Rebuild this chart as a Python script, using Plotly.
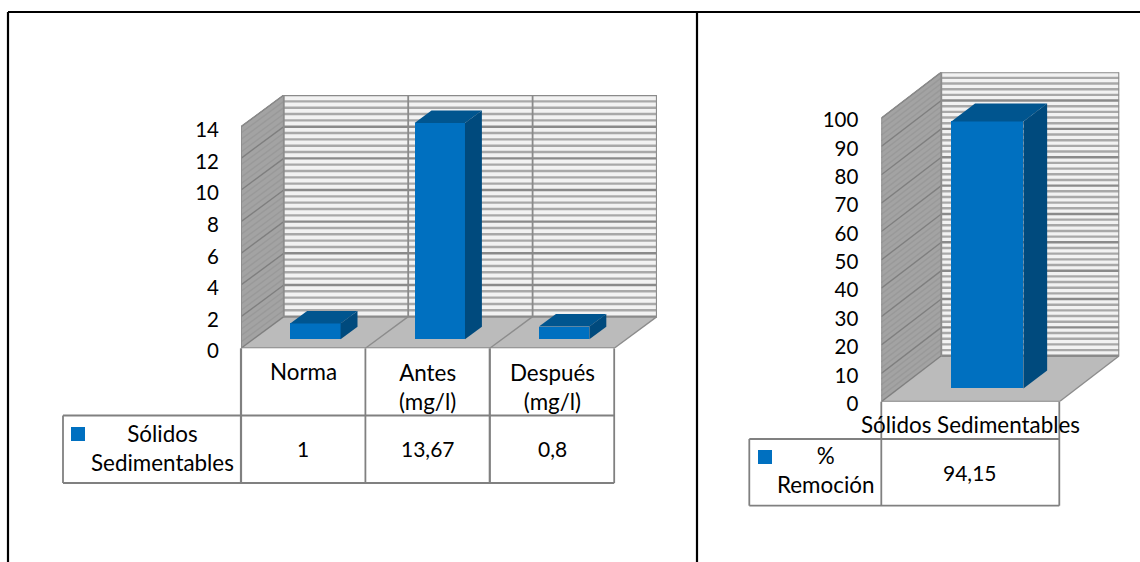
import plotly.graph_objects as go

W, H = 1140, 562

# ---- data
left_categories = ["Norma", "Antes<br>(mg/l)", "Después<br>(mg/l)"]
left_values = [1, 13.67, 0.8]
left_value_labels = ["1", "13,67", "0,8"]
left_series = "Sólidos<br>Sedimentables"
left_ticks = [0, 2, 4, 6, 8, 10, 12, 14]

right_categories = ["Sólidos Sedimentables"]
right_values = [94.15]
right_value_labels = ["94,15"]
right_series = "%<br>Remoción"
right_ticks = [0, 10, 20, 30, 40, 50, 60, 70, 80, 90, 100]

# ---- style
FONT = "Lato"
FS = 22.4
FS_VAL = 21
FS_TICK = 20.5
BLUE, BLUE_TOP, BLUE_SIDE = "#0070c0", "#00558f", "#004a7d"
WALL_BACK, WALL_SIDE, FLOOR = "#f2f2f2", "#a3a3a3", "#bbbbbb"
GRID_BACK, GRID_MAJOR, GRID_SIDE, GRID_SIDE_MAJOR = "#a8a8a8", "#8a8a8a", "#999999", "#7f7f7f"
EDGE = "#8c8c8c"
TABLE = "#808080"
BAR_D0, BAR_D1, BAR_W = 0.285, 0.68, 0.405


def px(x):
    return x / W


def py(y):
    return 1 - y / H


shapes, annotations = [], []


def paper_line(x0, y0, x1, y1, color=TABLE, width=1.8):
    shapes.append(dict(type="line", xref="paper", yref="paper", x0=px(x0), y0=py(y0),
                       x1=px(x1), y1=py(y1), line=dict(color=color, width=width)))


def paper_text(x, y, text, size=FS):
    annotations.append(dict(xref="paper", yref="paper", x=px(x), y=py(y), text=text, showarrow=False,
                            xanchor="center", yanchor="middle", align="center",
                            font=dict(family=FONT, size=size, color="black")))


def build_chart(fig, sub, ncat, values, ymax_tick, dx, dy, minor, major):
    xr, yr = "x" + sub, "y" + sub

    def poly(points, fill, line=None, lw=0):
        path = "M" + " L".join(f"{a},{b}" for a, b in points) + " Z"
        shapes.append(dict(type="path", xref=xr, yref=yr, path=path, fillcolor=fill, layer="below",
                           line=dict(color=line or fill, width=lw)))

    def seg(a, b, c, d, color, width):
        shapes.append(dict(type="line", xref=xr, yref=yr, x0=a, y0=b, x1=c, y1=d, layer="below",
                           line=dict(color=color, width=width)))

    # walls and floor
    poly([(dx, dy), (ncat + dx, dy), (ncat + dx, ymax_tick + dy), (dx, ymax_tick + dy)], WALL_BACK)
    poly([(0, 0), (dx, dy), (dx, ymax_tick + dy), (0, ymax_tick)], WALL_SIDE)
    poly([(0, 0), (ncat, 0), (ncat + dx, dy), (dx, dy)], FLOOR)

    # grid on the walls
    steps = int(round(ymax_tick / minor))
    for i in range(steps + 1):
        v = i * minor
        is_major = abs(v / major - round(v / major)) < 1e-6
        seg(dx, v + dy, ncat + dx, v + dy, GRID_MAJOR if is_major else GRID_BACK, 2.4)
        seg(0, v, dx, v + dy, GRID_SIDE_MAJOR if is_major else GRID_SIDE, 1.4)

    # category dividers on the floor and back wall
    for c in range(ncat + 1):
        if 0 < c < ncat:
            seg(c + dx, dy, c + dx, ymax_tick + dy, GRID_MAJOR, 1.8)
            seg(c, 0, c + dx, dy, EDGE, 1.4)
    seg(0, 0, ncat, 0, EDGE, 2)
    seg(ncat, 0, ncat + dx, dy, EDGE, 1.4)
    seg(ncat + dx, dy, ncat + dx, ymax_tick + dy, EDGE, 2.2)
    seg(dx, dy, dx, ymax_tick + dy, EDGE, 1.8)
    seg(0, 0, 0, ymax_tick, EDGE, 1.8)
    seg(0, ymax_tick, dx, ymax_tick + dy, EDGE, 1)

    # bars: front face is a real bar, the top and side faces are projected from the value
    centers = [c + 0.5 + dx * BAR_D0 for c in range(ncat)]
    base = dy * BAR_D0
    fig.add_trace(go.Bar(x=centers, y=values, base=[base] * ncat, width=BAR_W, marker_color=BLUE,
                         marker_line_width=0, xaxis=xr, yaxis=yr, showlegend=False, hoverinfo="skip"))
    ddx, ddy = dx * (BAR_D1 - BAR_D0), dy * (BAR_D1 - BAR_D0)
    for cx, v in zip(centers, values):
        x0, x1 = cx - BAR_W / 2, cx + BAR_W / 2
        top = base + v
        fig.add_trace(go.Scatter(x=[x0, x1, x1 + ddx, x0 + ddx, x0], y=[top, top, top + ddy, top + ddy, top],
                                 mode="lines", fill="toself", fillcolor=BLUE_TOP, line=dict(width=0),
                                 xaxis=xr, yaxis=yr, showlegend=False, hoverinfo="skip"))
        fig.add_trace(go.Scatter(x=[x1, x1 + ddx, x1 + ddx, x1, x1],
                                 y=[base, base + ddy, top + ddy, top, base],
                                 mode="lines", fill="toself", fillcolor=BLUE_SIDE, line=dict(width=0),
                                 xaxis=xr, yaxis=yr, showlegend=False, hoverinfo="skip"))


fig = go.Figure()

# ---- left chart
L_X0, L_CAT = 241.0, 124.4
L_Y0, L_UNIT = 348.3, 15.83
L_DX, L_DY = 42.8 / L_CAT, 2.0
build_chart(fig, "", 3, left_values, 14, L_DX, L_DY, 0.4, 2)

# ---- right chart
R_X0, R_CAT = 881.3, 178.0
R_Y0, R_UNIT = 401.7, 2.836
R_DX, R_DY = 60.0 / R_CAT, 16.2
build_chart(fig, "2", 1, right_values, 100, R_DX, R_DY, 2, 10)

# ---- left data table
lx = [L_X0 + i * L_CAT for i in range(4)]
T1, T2, T3 = L_Y0, 415.5, 483.0
for x in lx:
    paper_line(x, T1, x, T3, width=2.2 if x in (lx[0], lx[2]) else 1.8)
paper_line(63, T2, lx[3], T2)
paper_line(63, T3, lx[3], T3)
paper_line(63, T2, 63, T3)
for i, (c, v) in enumerate(zip(left_categories, left_value_labels)):
    cx = lx[i] + L_CAT / 2
    paper_text(cx, 387 if "<br>" in c else 371.5, c)
    paper_text(cx, 448, v, FS_VAL)
paper_text(162, 447.5, left_series)
shapes.append(dict(type="rect", xref="paper", yref="paper", x0=px(71), x1=px(85), y0=py(441), y1=py(427),
                   fillcolor=BLUE, line_width=0))

# ---- right data table
rx = [R_X0 + i * R_CAT for i in range(2)]
for x in rx:
    paper_line(x, R_Y0, x, 505.7)
paper_line(749.3, 439, rx[1], 439)
paper_line(749.3, 505.7, rx[1], 505.7)
paper_line(749.3, 439, 749.3, 505.7)
paper_text(970, 424.5, right_categories[0])
paper_text(970, 472, right_value_labels[0], FS_VAL)
paper_text(826, 470, right_series)
shapes.append(dict(type="rect", xref="paper", yref="paper", x0=px(758), x1=px(772), y0=py(464), y1=py(450),
                   fillcolor=BLUE, line_width=0))

# ---- page frame lines
paper_line(8, 12, W, 12, color="black", width=2.2)
paper_line(8, 12, 8, H, color="black", width=2.2)
paper_line(697, 12, 697, H, color="black", width=2.2)

tickfont = dict(family=FONT, size=FS_TICK, color="black")
fig.update_layout(
    width=W, height=H, margin=dict(l=0, r=0, t=0, b=0, autoexpand=False), paper_bgcolor="white",
    plot_bgcolor="rgba(0,0,0,0)",
    bargap=0, showlegend=False, shapes=shapes, annotations=annotations,
    xaxis=dict(domain=[px(L_X0), px(L_X0 + (3 + L_DX) * L_CAT)], range=[0, 3 + L_DX], visible=False, fixedrange=True,
               automargin=False),
    yaxis=dict(domain=[py(L_Y0), py(L_Y0 - 16 * L_UNIT)], range=[0, 16], tickvals=left_ticks, ticks="",
               showgrid=False, zeroline=False, showline=False, tickfont=tickfont, ticklabelstandoff=21,
               ticklabelshift=3, fixedrange=True, automargin=False),
    xaxis2=dict(domain=[px(R_X0), px(R_X0 + (1 + R_DX) * R_CAT)], range=[0, 1 + R_DX], visible=False,
                fixedrange=True, anchor="y2", automargin=False),
    yaxis2=dict(domain=[py(R_Y0), py(R_Y0 - (100 + R_DY) * R_UNIT)], range=[0, 100 + R_DY], tickvals=right_ticks,
                ticks="", showgrid=False, zeroline=False, showline=False, tickfont=tickfont, anchor="x2",
                ticklabelstandoff=22, ticklabelshift=2, fixedrange=True, automargin=False),
)

fig.write_html("out.html", config=dict(displayModeBar=False),
               post_script="document.body.style.margin='0';")
